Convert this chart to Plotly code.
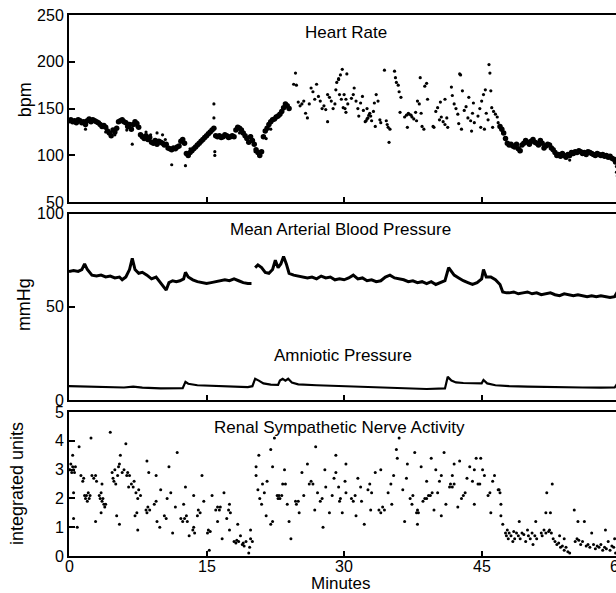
import plotly.graph_objects as go

# ---------------- DATA (minutes, values) ----------------
# Heart rate, dense early section (bpm)
hr_a_t = [0.0,0.2,0.4,0.6,0.8, 1.0,1.2,1.4,1.6,1.8, 2.0,2.2,2.4,2.6,2.8, 3.0,3.2,3.4,3.6,3.8,
          4.0,4.2,4.4,4.6,4.8, 5.0,5.2,5.4,5.6,5.8, 6.0,6.2,6.4,6.6,6.8, 7.0,7.2,7.4,7.6,7.8,
          8.0,8.2,8.4,8.6,8.8, 9.0,9.2,9.4,9.6,9.8, 10.0,10.2,10.4,10.6,10.8, 11.0,11.2,11.4,11.6,11.8,
          12.0,12.2,12.4,12.6,12.8, 13.0,13.2,13.4,13.6,13.8, 14.0,14.2,14.4,14.6,14.8, 15.0,15.2,15.4,15.6,15.8,
          16.0,16.2,16.4,16.6,16.8, 17.0,17.2,17.4,17.6,17.8, 18.0,18.2,18.4,18.6,18.8, 19.0,19.2,19.4,19.6,19.8,
          20.0,20.2,20.4,20.6,20.8, 21.0,21.2,21.4,21.6,21.8, 22.0,22.2,22.4,22.6,22.8, 23.0,23.2,23.4,23.6,23.8,
          24.0]
hr_a_v = [137,138,136,137,135, 138,137,135,136,133, 137,139,136,138,137, 136,135,133,131,132,
          130,126,124,121,127, 125,129,136,137,138, 136,135,131,133,128, 133,136,134,130,122,
          120,118,121,117,119, 114,113,116,112,115, 114,113,111,112,108, 107,106,108,107,109,
          110,115,117,113,102, 100,103,105,107,109, 111,113,115,117,119, 121,123,125,127,129,
          121,120,121,119,120, 122,121,119,120,121, 120,127,130,129,127, 124,121,118,114,120,
          116,112,106,103,100, 104,120,126,129,133, 136,138,139,141,142, 144,147,151,155,153,
          150]
# Heart rate, isolated beats
hr_dots = [(1.8,128),(4.0,125),(5.0,122),(6.3,127),(6.9,112),(7.4,131),(8.4,125),(8.9,122),(9.6,124),
           (10.2,122),(10.5,117),(11.2,90),(12.7,89),(15.8,155),(15.8,140),(15.9,104),(15.9,100),
           (13.2,107),(18.6,124),(19.8,121),(20.3,104),(20.7,101),(21.5,118),(22.0,128),
           (24.5,176),(24.7,188),(24.8,175),(25.0,157),(25.2,153),(25.4,155),(25.6,158),(25.8,145),
           (26.0,140),(26.2,155),(26.4,172),(26.6,168),(26.8,160),(27.0,176),(27.2,163),(27.4,158),
           (27.6,150),(27.8,153),(28.0,149),(28.2,165),(28.4,162),(28.6,158),(28.2,136),(28.8,150),
           (29.0,155),(29.1,170),(29.2,178),(29.4,182),(29.6,186),(29.8,192),(30.0,165),(30.2,160),
           (30.4,155),(30.1,150),(29.4,181),(29.5,165),(29.7,160),(29.9,151),(30.2,146),(30.3,187),
           (30.8,161),(31.0,165),(31.1,172),(31.3,158),(31.5,150),(31.6,142),(31.8,156),(32.0,163),(32.1,148),
           (32.3,136),(32.4,137),(32.5,139),(32.6,140),(32.7,143),(32.8,145),(32.9,142),(33.0,137),
           (33.2,147),(33.3,156),(33.5,165),(33.7,158),(33.9,138),(34.0,135),(33.4,131),(32.5,150),
           (34.4,191),(34.6,137),(34.7,133),(34.8,130),(34.9,114),(35.0,128),
           (35.5,190),(35.6,183),(35.7,178),(35.9,175),(36.0,168),(36.2,162),(36.1,146),
           (36.6,141),(36.8,143),(37.0,145),(37.1,144),(37.3,143),(37.4,141),(37.6,139),(37.8,146),
           (37.9,137),(36.9,130),(38.0,158),(38.2,155),(38.4,145),(38.5,131),(38.7,128),(38.8,174),
           (39.0,177),(39.1,160),(38.3,183),(39.7,131),(39.8,130),(40.0,147),(40.2,151),(40.4,138),
           (40.6,141),(40.8,136),(41.0,133),(41.2,140),(41.3,130),(40.5,157),(41.0,160),
           (41.7,173),(41.8,164),(42.0,155),(42.2,150),(42.4,144),(42.6,187),(42.7,186),(42.9,169),
           (42.5,134),(42.8,128),(43.1,148),(43.3,152),(43.5,140),(43.6,162),(43.8,137),(44.0,145),
           (44.1,156),(44.2,135),(43.9,126),(44.6,142),(44.8,150),(45.0,158),(45.2,165),(45.4,170),
           (45.5,145),(45.7,138),(44.9,130),(45.3,128),(45.8,197),(45.9,188),(46.0,169),(46.1,151),
           (46.3,147),(46.5,144),(46.7,141),(46.8,135),(46.2,130),
           (49.1,104),(54.6,95),(59.7,88),(59.7,82),(59.8,78)]
# Heart rate, dense late section (bpm)
hr_c_t = [47.0,47.2,47.4,47.6,47.8, 48.0,48.2,48.4,48.6,48.8, 49.0,49.2,49.4,49.6,49.8,
          50.0,50.2,50.4,50.6,50.8, 51.0,51.2,51.4,51.6,51.8, 52.0,52.2,52.4,52.6,52.8,
          53.0,53.2,53.4,53.6,53.8, 54.0,54.2,54.4,54.6,54.8, 55.0,55.2,55.4,55.6,55.8,
          56.0,56.2,56.4,56.6,56.8, 57.0,57.2,57.4,57.6,57.8, 58.0,58.2,58.4,58.6,58.8,
          59.0,59.2,59.4,59.6]
hr_c_v = [131,128,124,118,113, 111,112,110,109,112, 107,105,111,113,116,
          114,112,115,117,114, 113,111,116,113,108, 110,112,111,108,106,
          103,100,101,99,102, 100,98,101,100,103, 102,104,103,105,104,
          102,103,101,104,103, 102,101,100,102,101, 100,101,99,100,98,
          99,97,96,93]

# Mean arterial blood pressure (mmHg)
map_t = [0.0,0.5,1.0,1.4,1.7,2.0,2.5,3.0,3.5,4.0,4.5,5.0,5.5,5.8,6.2,6.6,6.9,7.2,7.6,8.0,
         8.5,9.0,9.5,10.0,10.3,10.6,10.9,11.3,11.7,12.1,12.5,12.7,13.0,13.5,14.0,14.5,15.0,15.5,
         16.0,16.5,17.0,17.5,18.0,18.5,19.0,19.5,19.9,20.1,20.3,20.6,21.0,21.4,21.8,22.2,22.5,
         22.8,23.1,23.4,23.7,24.0,24.5,25.0,25.5,26.0,26.5,27.0,27.5,28.0,28.5,29.0,29.5,30.0,
         30.5,31.0,31.5,32.0,32.5,33.0,33.5,34.0,34.5,35.0,35.5,36.0,36.5,37.0,37.5,38.0,38.5,
         39.0,39.5,40.0,40.5,41.0,41.4,41.7,42.0,42.5,43.0,43.5,44.0,44.5,45.0,45.2,45.5,46.0,
         46.5,47.0,47.3,47.7,48.0,48.5,49.0,49.5,50.0,50.5,51.0,51.5,52.0,52.5,53.0,53.5,54.0,
         54.5,55.0,55.5,56.0,56.5,57.0,57.5,58.0,58.5,59.0,59.5,59.8]
map_v = [69,69.5,69,70,73,70,67,66.5,67,66,66.5,65.5,66,64.5,66,70,76,70,68,68.5,
         67,65,66,63,61,59,63,64,63.5,64,65,68.5,66,64.5,63.5,63,62.5,63,
         63.5,64,64.5,64,65,64,63,62.5,62.5,None,71,72.5,71,68.5,68,70,75,
         71,73,77,73,68,67,66.5,66,65.5,66,65,66.5,65.5,66,64.5,65,64.5,
         65.5,67,65,65.5,64,64.5,63.5,64,66,67,65.5,65,64.5,63.5,64,63,63.5,
         62.5,63.5,62,63,64,71,69,67,65.5,64,63,62,63,65,70,66,66,
         64.5,62,58,57.5,57.5,58,57,57.5,58,57,57.5,56.5,57,57.5,56.5,56,57,
         56.5,56,56.5,56,55.5,56,55.5,56,55.5,55,55.5,58]

# Amniotic pressure (mmHg)
amn_t = [0,2,4,6,7.0,8,10,12,12.4,12.7,13.0,14,16,18,19.5,20.0,20.3,20.7,21.2,22,22.8,23.0,
         23.3,23.6,23.9,24.3,25,27,30,33,36,39,41.0,41.3,41.7,42.2,43,44.5,45.0,45.2,45.6,46.5,
         48,50,52,54,56,58,59.5,59.8]
amn_v = [7.5,7.2,7,6.8,7.3,6.7,6.3,6.2,6.4,9.8,8.8,8,7.5,7.2,7,7.5,11.5,10.5,9,8.3,8.2,10.5,
         11.5,10.5,11.5,9.5,8.5,8,7.5,7,6.5,6,6.3,12.5,10.5,9.5,9.2,8.8,9,10.8,9,8,
         7.5,7.3,7,6.8,6.8,6.7,6.8,9]

# Renal sympathetic nerve activity (integrated units)
rsna_pts = [(0.1,3.0),(0.2,3.2),(0.3,2.9),(0.4,3.1),(0.5,3.0),(0.6,2.9),(0.7,3.1),(0.4,3.5),(1.1,3.8),
            (0.5,2.2),(0.5,1.3),(0.9,1.0),(1.3,2.8),(1.5,2.6),(1.6,2.7),(1.7,2.1),(1.8,2.0),(1.9,2.1),
            (2.0,1.9),(2.1,2.2),(2.2,2.0),(2.3,2.1),(2.4,4.1),(2.5,2.8),(2.7,2.7),(2.9,2.8),(3.0,2.6),
            (2.9,1.2),(3.3,2.1),(3.4,2.0),(3.5,2.2),(3.6,1.9),(3.7,2.0),(3.8,1.8),(3.9,1.7),(4.0,1.8),
            (3.6,2.5),(3.5,1.5),(4.5,4.3),(4.7,2.9),(4.8,2.7),(4.9,2.6),(5.0,3.0),(5.1,2.5),(5.3,2.8),
            (5.4,3.1),(5.5,3.2),(5.6,3.5),(5.8,2.9),(6.0,3.0),(6.2,3.9),(6.3,2.8),(6.4,2.9),(6.6,2.8),
            (6.5,2.4),(6.8,2.5),(7.0,2.4),(7.1,2.6),(5.5,1.1),(5.2,1.4),(7.2,1.4),(7.4,1.5),(7.3,2.2),
            (7.5,2.0),(7.6,2.3),(7.5,0.9),(7.8,2.1),(8.4,1.6),(8.5,1.5),(8.6,1.7),(8.8,1.6),(8.7,2.9),
            (8.5,3.3),(9.3,1.8),(9.5,1.9),(9.5,2.8),(9.6,1.2),(10.0,2.3),(10.4,1.4),(10.6,1.3),
            (10.9,3.1),(11.1,2.2),(11.3,0.8),(11.6,1.7),(12.2,1.3),(12.4,1.2),(12.6,1.3),(12.8,1.4),
            (12.9,1.2),(12.5,1.8),(12.7,2.4),(13.1,0.7),(13.5,0.9),(13.6,1.0),(13.7,0.8),(13.6,2.1),
            (14.0,1.4),(14.1,1.6),(14.3,1.5),(14.5,2.8),(14.7,1.9),(15.1,0.8),(15.2,0.9),(15.4,0.85),
            (15.3,0.2),(15.6,2.1),(16.0,1.6),(16.2,1.7),(16.4,1.6),(16.5,1.7),(16.2,1.2),(16.7,0.6),
            (16.9,2.2),(17.2,1.3),(17.4,1.6),(17.5,1.8),(17.6,1.5),(17.5,0.9),(18.0,0.5),(18.2,0.45),
            (18.3,0.55),(18.5,0.5),(18.4,1.1),(18.7,0.7),(18.9,0.4),(19.1,0.35),(19.3,0.5),(19.0,0.45),
            (19.6,0.1),(19.7,0.3),(19.8,0.6),(20.0,0.5),(19.8,0.9),(11.8,3.6),(9.9,1.0),(10.7,2.0),
            (20.4,3.1),(20.4,2.8),(20.7,3.5),(20.6,2.3),(20.8,2.0),(21.0,1.8),(21.1,2.5),(21.3,2.2),
            (21.5,1.4),(21.6,2.6),(22.0,3.7),(22.2,3.1),(22.4,4.1),(22.0,1.1),(22.2,1.2),(22.7,2.1),
            (22.8,2.0),(22.9,2.1),(23.0,2.0),(23.2,2.1),(23.3,2.5),(23.6,2.5),(23.8,1.8),(24.0,1.2),
            (24.2,0.6),(24.7,1.9),(24.8,1.8),(25.0,1.9),(25.1,1.5),(25.6,2.1),(26.0,3.2),(26.2,2.5),
            (26.4,2.6),(26.6,2.5),(26.9,3.8),(27.1,2.2),(27.4,1.9),(27.6,2.0),(27.7,1.0),(28.0,2.4),
            (28.4,1.5),(28.7,2.1),(29.1,3.5),(29.1,2.9),(29.5,1.9),(29.8,1.5),(30.2,2.2),(29.4,2.4),
            (29.6,2.0),(30.1,2.6),(30.2,3.2),(30.8,2.0),(31.0,1.9),(31.2,2.1),(31.3,1.4),(31.8,2.4),
            (32.2,1.1),(32.6,2.3),(32.8,2.5),(33.0,2.2),(32.9,1.6),(33.8,1.6),(34.0,1.5),(34.2,1.7),
            (34.4,1.6),(34.0,3.0),(34.8,2.2),(35.1,2.5),(35.4,2.8),(35.7,3.7),(35.8,3.4),(36.0,4.1),
            (36.4,2.3),(36.6,1.2),(36.9,3.2),(37.2,2.0),(37.4,1.8),(37.5,2.1),(37.7,3.6),(37.9,1.5),
            (38.0,1.6),(38.1,1.5),(38.0,1.1),(38.6,1.9),(38.8,2.0),(39.0,2.0),(39.2,2.1),(39.4,2.1),
            (39.6,2.2),(39.0,2.6),(39.5,3.4),(39.8,1.6),(40.2,2.2),(40.4,2.6),(40.6,2.8),(40.9,3.6),
            (40.6,1.4),(41.1,1.8),(41.5,2.4),(41.6,2.5),(41.8,2.4),(42.0,2.5),(41.8,2.8),(42.0,3.2),
            (42.4,1.7),(42.8,2.0),(43.0,2.1),(43.2,2.2),(43.7,3.1),(44.0,2.6),(44.2,3.0),(44.4,3.4),
            (44.2,1.8),(44.6,2.5),(44.8,2.5),(44.9,3.4),(45.3,2.8),(45.7,2.1),(45.9,2.2),(46.0,1.5),
            (46.4,2.8),(46.8,2.3),(46.9,2.3),(47.0,2.2),(47.1,1.8),(47.1,1.4),(47.3,1.1),
            (23.5,3.0),(25.4,2.9),(27.9,3.0),(31.5,2.7),(33.4,2.9),(36.8,2.7),(38.4,3.1),(40.0,3.0),
            (42.6,3.3),(43.4,2.7),(45.1,3.0),(46.2,2.6),(26.8,1.6),(28.9,2.7),(31.9,1.9),(35.2,1.8),
            (47.6,0.8),(47.7,0.7),(47.8,0.9),(47.9,0.6),(48.0,0.8),(48.2,0.7),(48.4,0.5),(48.5,0.85),
            (48.6,0.6),(48.8,0.8),(49.0,0.7),(49.1,1.2),(49.2,0.6),(49.4,0.8),(49.6,0.75),(49.8,0.5),
            (50.0,0.9),(50.1,0.7),(50.3,0.6),(50.5,0.8),(50.6,0.4),(50.8,0.7),(50.9,1.2),(51.0,0.6),
            (51.5,0.8),(51.6,0.7),(51.8,0.9),(52.0,0.8),(52.1,2.2),(52.3,0.85),(52.4,0.9),(52.6,0.8),
            (52.0,1.5),(52.5,1.5),(52.7,2.5),(52.8,0.6),(53.0,0.5),(53.2,0.4),(53.4,0.45),(53.6,0.3),
            (53.8,0.35),(54.0,0.2),(54.2,0.3),(54.4,0.15),(54.6,0.1),(53.5,0.7),(54.0,0.6),(55.1,1.6),
            (55.5,1.2),(55.2,0.5),(55.4,0.6),(55.6,0.55),(55.8,0.4),(56.0,0.5),(56.2,1.2),(56.4,0.35),
            (56.6,0.4),(56.8,0.3),(57.0,0.8),(57.2,0.4),(57.4,0.25),(57.6,0.35),(57.8,0.3),(58.0,0.4),
            (58.2,0.2),(58.4,0.3),(58.6,0.25),(58.8,0.5),(59.0,0.2),(59.2,0.35),(59.4,0.3),(59.6,0.1),
            (59.5,0.6),(58.5,0.9)]

x_ticks = [0, 15, 30, 45, 60]
panel_titles = ["Heart Rate", "Mean Arterial Blood Pressure", "Amniotic Pressure",
                "Renal Sympathetic Nerve Activity"]
y_titles = ["bpm", "mmHg", "integrated units"]

# ---------------- FIGURE ----------------
FONT = "Liberation Sans, Arial, Helvetica, sans-serif"
INK = "black"
fig = go.Figure()

def dots(x, y, xa, ya, size):
    fig.add_trace(go.Scatter(x=x, y=y, mode="markers", xaxis=xa, yaxis=ya,
                             marker=dict(color=INK, size=size, line=dict(width=0)),
                             showlegend=False, hoverinfo="skip"))

dots(hr_a_t, hr_a_v, "x", "y", 5.5)
dots([p[0] for p in hr_dots], [p[1] for p in hr_dots], "x", "y", 3.2)
dots(hr_c_t, hr_c_v, "x", "y", 5.5)

fig.add_trace(go.Scatter(x=map_t, y=map_v, mode="lines", xaxis="x2", yaxis="y2",
                         line=dict(color=INK, width=3), connectgaps=False,
                         showlegend=False, hoverinfo="skip"))
fig.add_trace(go.Scatter(x=amn_t, y=amn_v, mode="lines", xaxis="x2", yaxis="y2",
                         line=dict(color=INK, width=2.2),
                         showlegend=False, hoverinfo="skip"))

dots([p[0] for p in rsna_pts], [p[1] for p in rsna_pts], "x3", "y3", 3.0)

XR = [0, 59.65]
common_x = dict(range=XR, tickvals=x_ticks, ticks="inside", ticklen=5, tickwidth=1.5,
                tickcolor=INK, showline=True, linecolor=INK, linewidth=2, mirror=True,
                showgrid=False, zeroline=False, fixedrange=True, showticklabels=False)
common_y = dict(ticks="inside", ticklen=6, tickwidth=1.5, tickcolor=INK, showline=True,
                linecolor=INK, linewidth=2, showgrid=False, zeroline=False,
                tickfont=dict(family=FONT, size=16, color=INK), fixedrange=True)

fig.update_layout(
    width=616, height=593,
    margin=dict(l=69, r=0, t=15, b=37),
    paper_bgcolor="white", plot_bgcolor="white",
    font=dict(family=FONT, color=INK),
    xaxis=dict(common_x, anchor="y"),
    yaxis=dict(common_y, domain=[0.654, 1.0], range=[50, 250], tickvals=[50, 100, 150, 200, 250]),
    xaxis2=dict(common_x, anchor="y2"),
    yaxis2=dict(common_y, domain=[0.288, 0.633], range=[0, 100], tickvals=[0, 50, 100]),
    xaxis3=dict(common_x, anchor="y3"),
    yaxis3=dict(common_y, domain=[0.0, 0.266], range=[0, 5], tickvals=[0, 1, 2, 3, 4, 5]),
)

ann = []
title_pos = [(0.506, 0.967), (0.497, 0.604), (0.501, 0.3715), (0.495, 0.2366)]
for txt, (px, py) in zip(panel_titles, title_pos):
    ann.append(dict(text=txt, x=px, y=py, xref="paper", yref="paper", showarrow=False,
                    xanchor="center", yanchor="middle", font=dict(family=FONT, size=17, color=INK)))
ytitle_pos = [(-0.080, 0.843), (-0.082, 0.464), (-0.095, 0.133)]
for txt, (px, py) in zip(y_titles, ytitle_pos):
    ann.append(dict(text=txt, x=px, y=py, xref="paper", yref="paper", showarrow=False,
                    textangle=-90, xanchor="center", yanchor="middle",
                    font=dict(family=FONT, size=18, color=INK)))
ann.append(dict(text="Minutes", x=0.497, y=-0.05, xref="paper", yref="paper", showarrow=False,
                xanchor="center", yanchor="middle", font=dict(family=FONT, size=17, color=INK)))
# x tick labels of the bottom panel, placed at their minute values
for tv in x_ticks:
    ann.append(dict(text=str(tv), x=tv / XR[1], y=-0.0185, xref="paper", yref="paper",
                    showarrow=False, xanchor="center", yanchor="middle",
                    font=dict(family=FONT, size=16, color=INK)))
fig.update_layout(annotations=ann)

fig.write_html("out.html", config={"displayModeBar": False},
               post_script="document.body.style.margin='0';document.body.style.overflow='hidden';")
